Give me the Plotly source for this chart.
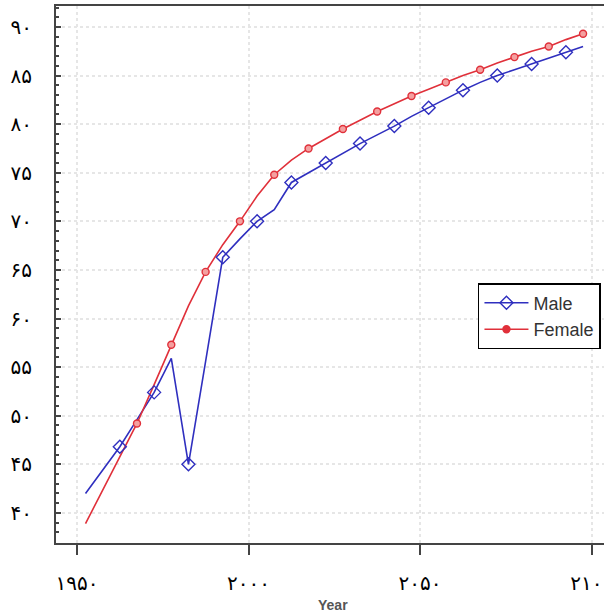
import plotly.graph_objects as go

years = [1952.5, 1957.5, 1962.5, 1967.5, 1972.5, 1977.5, 1982.5, 1987.5, 1992.5, 1997.5,
         2002.5, 2007.5, 2012.5, 2017.5, 2022.5, 2027.5, 2032.5, 2037.5, 2042.5, 2047.5,
         2052.5, 2057.5, 2062.5, 2067.5, 2072.5, 2077.5, 2082.5, 2087.5, 2092.5, 2097.5]
male = [42.0, 44.4, 46.8, 49.6, 52.4, 55.9, 45.0, 55.6, 66.3, 68.2,
        70.0, 71.2, 74.0, 75.0, 76.0, 77.0, 78.0, 78.9, 79.8, 80.8,
        81.7, 82.6, 83.5, 84.3, 85.0, 85.6, 86.2, 86.8, 87.4, 88.0]
female = [38.9, 42.3, 45.7, 49.2, 53.2, 57.3, 61.3, 64.8, 67.6, 70.0,
          72.6, 74.8, 76.3, 77.5, 78.5, 79.5, 80.4, 81.3, 82.1, 82.9,
          83.6, 84.3, 85.0, 85.6, 86.3, 86.9, 87.5, 88.0, 88.7, 89.3]

y_tickvals = [40, 45, 50, 55, 60, 65, 70, 75, 80, 85, 90]
y_ticktext = ["۴۰", "۴۵", "۵۰", "۵۵", "۶۰", "۶۵", "۷۰", "۷۵", "۸۰", "۸۵", "۹۰"]
x_tickvals = [1950, 2000, 2050, 2100]
x_ticktext = ["۱۹۵۰", "۲۰۰۰", "۲۰۵۰", "۲۱۰۰"]

blue = "#2f2fbf"
red = "#e0303a"

fig = go.Figure()
# lines
fig.add_trace(go.Scatter(x=years, y=male, mode="lines", line=dict(color=blue, width=1.6),
                         showlegend=False, hoverinfo="skip"))
fig.add_trace(go.Scatter(x=years, y=female, mode="lines", line=dict(color=red, width=1.6),
                         showlegend=False, hoverinfo="skip"))
# markers (every other point)
fig.add_trace(go.Scatter(x=years[2::2], y=male[2::2], mode="markers",
                         marker=dict(symbol="diamond-open", size=10, color=blue,
                                     line=dict(width=1.4, color=blue)),
                         showlegend=False))
fig.add_trace(go.Scatter(x=years[3::2], y=female[3::2], mode="markers",
                         marker=dict(symbol="circle", size=7, color="#f4a0a0",
                                     line=dict(width=1.4, color=red)),
                         showlegend=False))
# legend entries
fig.add_trace(go.Scatter(x=[None], y=[None], mode="lines+markers", name="Male",
                         line=dict(color=blue, width=1.6),
                         marker=dict(symbol="diamond-open", size=10, color=blue,
                                     line=dict(width=1.4, color=blue))))
fig.add_trace(go.Scatter(x=[None], y=[None], mode="lines+markers", name="Female",
                         line=dict(color=red, width=1.6),
                         marker=dict(symbol="circle", size=7, color=red,
                                     line=dict(width=1.4, color=red))))

fig.add_annotation(text="<b>Year</b>", xref="paper", yref="paper", x=0.505, y=-0.115,
                   xanchor="center", yanchor="middle", showarrow=False,
                   font=dict(family="Liberation Sans, Arial", size=14, color="#555555"))

fig.update_layout(
    width=604, height=614,
    margin=dict(l=56, r=0, t=6, b=71),
    paper_bgcolor="white", plot_bgcolor="white",
    font=dict(family="DejaVu Sans", color="black"),
    legend=dict(x=0.770, y=0.484, xanchor="left", yanchor="top",
                bgcolor="white", bordercolor="black", borderwidth=1.5,
                font=dict(family="Liberation Sans, Arial", size=18, color="#333333"),
                tracegroupgap=0, itemwidth=44),
    xaxis=dict(range=[1943.9, 2103.6], tickvals=x_tickvals, ticktext=x_ticktext,
               automargin=False, ticklabeloverflow="allow",
               showline=True, linecolor="#444444", linewidth=2, mirror=True,
               ticks="outside", ticklen=10, tickwidth=2, tickcolor="#444444",
               ticklabelstandoff=11,
               tickfont=dict(family="DejaVu Sans", size=20, color="black"),
               showgrid=True, gridcolor="#e6e6e6", gridwidth=1.5, griddash="dot",
               zeroline=False),
    yaxis=dict(range=[36.9, 92.16], tickvals=y_tickvals, ticktext=y_ticktext,
               automargin=False, ticklabeloverflow="allow",
               showline=True, linecolor="#444444", linewidth=2, mirror=False,
               ticks="inside", ticklen=5, tickwidth=1.5, tickcolor="#444444",
               ticklabelstandoff=18,
               minor=dict(dtick=1, ticks="inside", ticklen=3, tickcolor="#444444", showgrid=False),
               tickfont=dict(family="DejaVu Sans", size=20, color="black"),
               showgrid=True, gridcolor="#e6e6e6", gridwidth=1.5, griddash="dot",
               zeroline=False),
)

fig.write_html("out.html", config={"displayModeBar": False},
               post_script="document.body.style.margin='0px';document.body.style.overflow='hidden';")
